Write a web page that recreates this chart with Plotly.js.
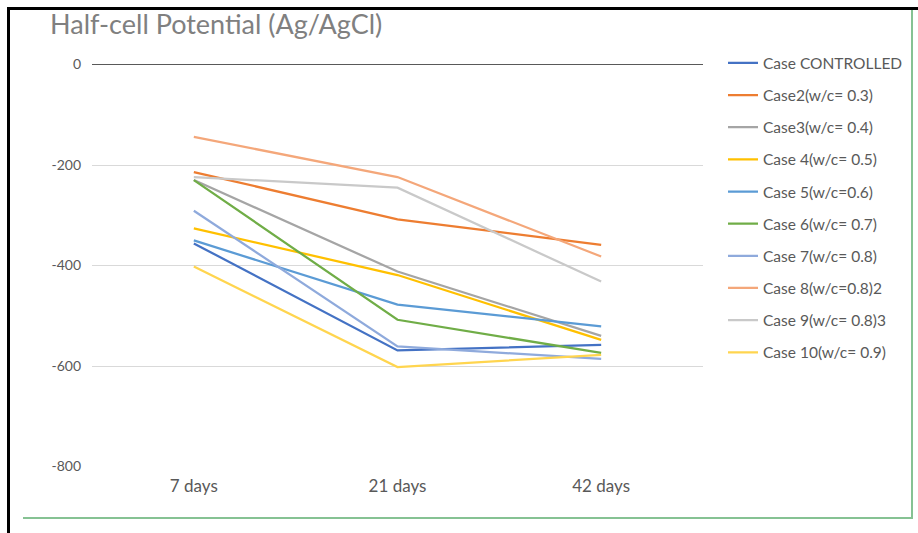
<!DOCTYPE html>
<html>
<head>
<meta charset="utf-8">
<script src="https://cdn.plot.ly/plotly-3.0.1.min.js"></script>
<style>
html,body{margin:0;padding:0;background:#fff;}
#wrap{position:relative;width:918px;height:533px;overflow:hidden;}
#chart{position:absolute;left:0;top:0;width:918px;height:533px;}
#bk{position:absolute;left:7px;top:7px;width:920px;height:540px;border-top:3px solid #000;border-left:3px solid #000;pointer-events:none;}
#gr{position:absolute;left:23px;top:10px;width:888px;height:507px;border-right:2px solid #86c293;border-bottom:2px solid #86c293;pointer-events:none;}
</style>
</head>
<body>
<div id="wrap">
<div id="chart"></div>
<div id="bk"></div>
<div id="gr"></div>
</div>
<script>
const categories = ["7 days", "21 days", "42 days"];
const seriesNames = [
  "Case CONTROLLED", "Case2(w/c= 0.3)", "Case3(w/c= 0.4)", "Case 4(w/c= 0.5)",
  "Case 5(w/c=0.6)", "Case 6(w/c= 0.7)", "Case 7(w/c= 0.8)", "Case 8(w/c=0.8)2",
  "Case 9(w/c= 0.8)3", "Case 10(w/c= 0.9)"
];
const caseControlled = [-356, -569, -558];
const case2 = [-214, -308, -359];
const case3 = [-230, -412, -540];
const case4 = [-326, -419, -548];
const case5 = [-350, -478, -521];
const case6 = [-230, -508, -574];
const case7 = [-291, -561, -586];
const case8 = [-144, -224, -382];
const case9 = [-224, -245, -432];
const case10 = [-402, -602, -578];
const seriesValues = [caseControlled, case2, case3, case4, case5, case6, case7, case8, case9, case10];
const colors = ["#4472C4", "#ED7D31", "#A5A5A5", "#FFC000", "#5B9BD5", "#70AD47", "#8FAADC", "#F4A77A", "#C9C9C9", "#FFD54F"];

const traces = seriesNames.map((n, i) => ({
  type: "scatter", mode: "lines", name: n, x: categories, y: seriesValues[i],
  line: {color: colors[i], width: 2.25}, legendgroup: "g" + i
}));

const layout = {
  width: 918, height: 533,
  margin: {l: 92, r: 215, t: 64, b: 66, autoexpand: false},
  paper_bgcolor: "#fff", plot_bgcolor: "#fff",
  font: {family: "Lato, 'Open Sans', sans-serif", size: 13, color: "#595959"},
  title: {text: "Half-cell Potential (Ag/AgCl)", x: 50/918, xanchor: "left", xref: "container", y: 1 - 25/533, yanchor: "middle",
          font: {family: "Lato, 'Open Sans', sans-serif", size: 27, color: "#808080"}},
  xaxis: {type: "category", range: [-0.5, 2.5], showgrid: false, zeroline: false, showline: false, ticks: "", ticklabelstandoff: 7,
          tickfont: {size: 17}, fixedrange: true},
  yaxis: {range: [-801, 1], tickvals: [0, -200, -400, -600, -800], ticktext: ["0", "-200", "-400", "-600", "-800"],
          showgrid: true, gridcolor: "#D9D9D9", gridwidth: 1, zeroline: true, zerolinecolor: "#595959", zerolinewidth: 1,
          showline: false, ticks: "", ticklabelstandoff: 10, tickfont: {size: 14}, fixedrange: true},
  legend: {xref: "container", x: 723/918, xanchor: "left", y: 0.643, yanchor: "middle", font: {size: 15.5, color: "#595959"},
           itemwidth: 30, tracegroupgap: 9, bgcolor: "rgba(0,0,0,0)"},
  showlegend: true
};
Plotly.newPlot("chart", traces, layout, {displayModeBar: false, staticPlot: true});
</script>
</body>
</html>
